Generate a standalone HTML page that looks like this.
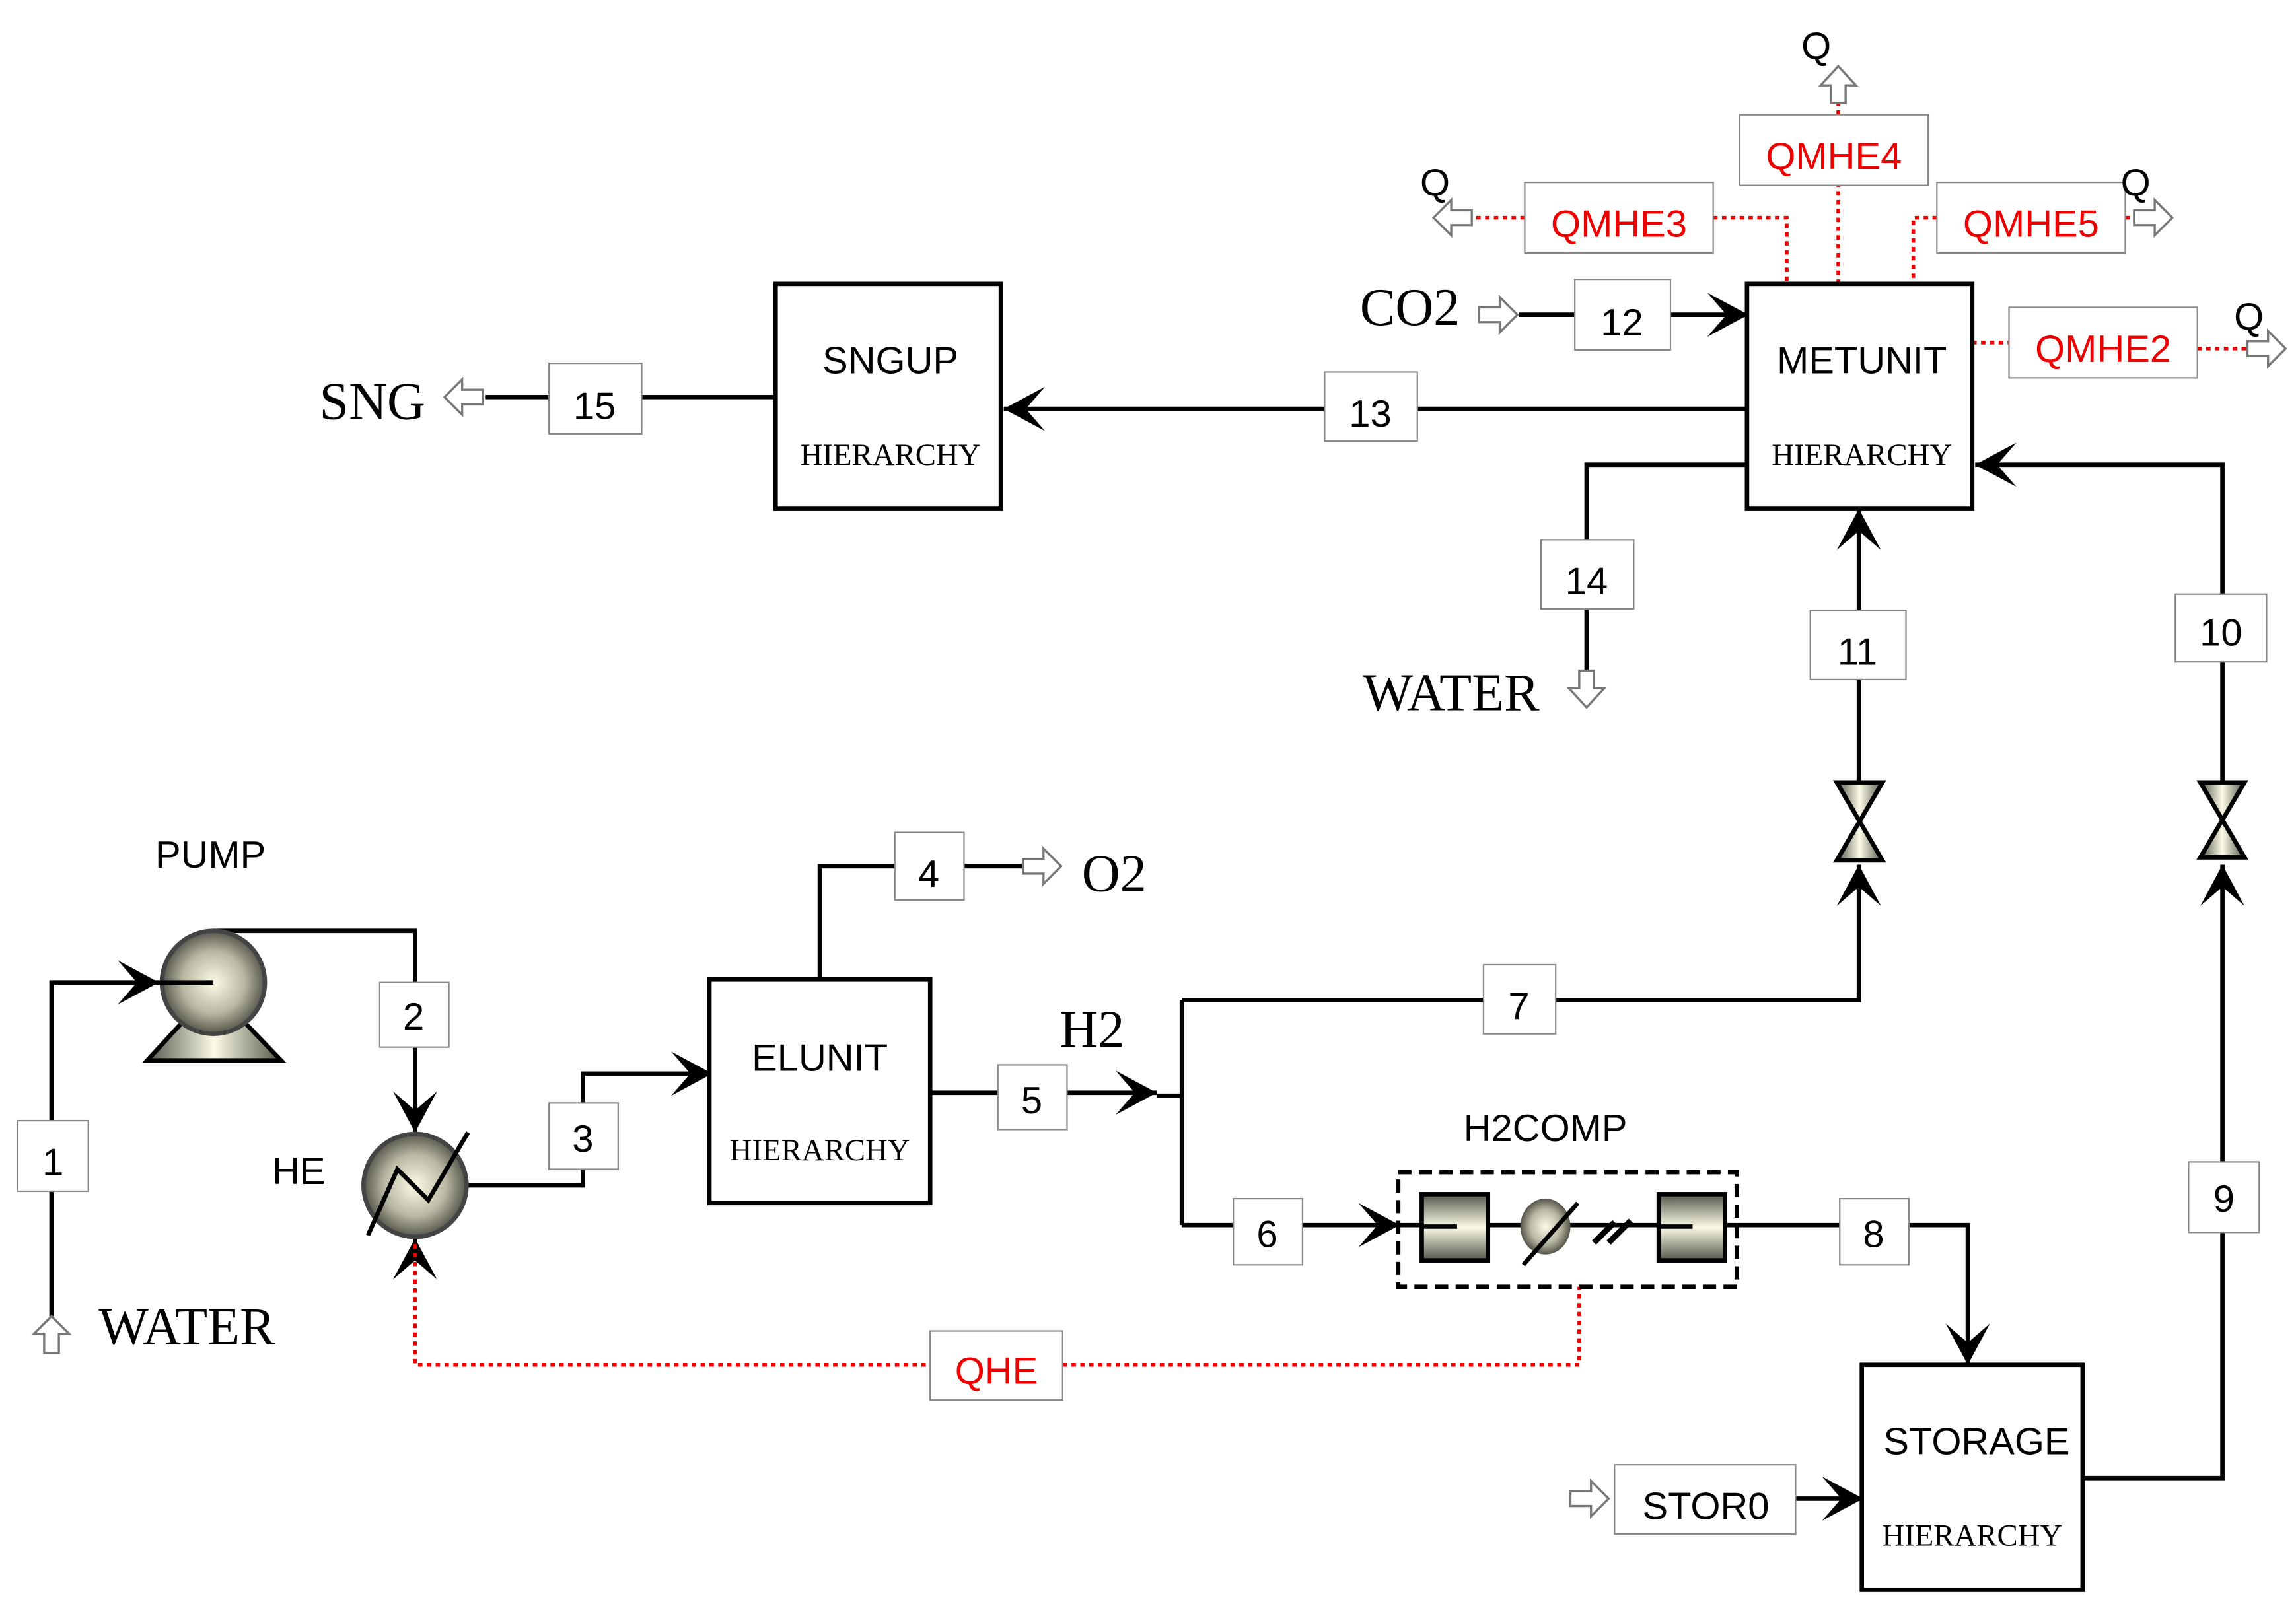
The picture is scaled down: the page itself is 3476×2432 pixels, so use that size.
<!DOCTYPE html>
<html><head><meta charset="utf-8"><style>html,body{margin:0;padding:0;background:#fff}svg{display:block}</style></head><body>
<svg width="3476" height="2432" viewBox="0 0 1560 1092" preserveAspectRatio="none" xmlns="http://www.w3.org/2000/svg">
<defs>
<marker id="a" viewBox="-30 -16 32 32" refX="0" refY="0" markerWidth="32" markerHeight="32" markerUnits="userSpaceOnUse" orient="auto"><path d="M0,0 L-28,-15 L-15,0 L-28,15 Z" fill="#000"/></marker>
<radialGradient id="sph" cx="50%" cy="50%" r="50%"><stop offset="0" stop-color="#fbfbe6"/><stop offset="0.6" stop-color="#b9b8a3"/><stop offset="1" stop-color="#55554b"/></radialGradient>
<linearGradient id="cyl" x1="0" y1="0" x2="0" y2="1"><stop offset="0" stop-color="#55554b"/><stop offset="0.5" stop-color="#fbfbe6"/><stop offset="1" stop-color="#55554b"/></linearGradient>
<linearGradient id="cylh" x1="0" y1="0" x2="1" y2="0"><stop offset="0" stop-color="#55554b"/><stop offset="0.5" stop-color="#fbfbe6"/><stop offset="1" stop-color="#55554b"/></linearGradient>
</defs>
<rect width="1560" height="1092" fill="#fff"/>
<g fill="none" stroke="#000" stroke-width="3">
<polyline points="35,895 35,668 108,668" marker-end="url(#a)"/>
<polyline points="145,633 282,633 282,770" marker-end="url(#a)"/>
<polyline points="317,806 396,806 396,730 484,730" marker-end="url(#a)"/>
<polyline points="557,666 557,589 695,589"/>
<polyline points="632,743 786,743" marker-end="url(#a)"/>
<polyline points="786,745 803,745"/>
<line x1="803" y1="680" x2="803" y2="833"/>
<polyline points="803,680 1263,680 1263,588" marker-end="url(#a)"/>
<polyline points="1263,532 1263,346" marker-end="url(#a)"/>
<polyline points="803,833 951,833" marker-end="url(#a)"/>
<polyline points="1180,833 1337,833 1337,928" marker-end="url(#a)"/>
<polyline points="1415,1005 1510,1005 1510,588" marker-end="url(#a)"/>
<polyline points="1510,532 1510,316 1342,316" marker-end="url(#a)"/>
<polyline points="1187,316 1078,316 1078,456"/>
<polyline points="1187,278 682,278" marker-end="url(#a)"/>
<polyline points="527,270 330,270"/>
<polyline points="1032,214 1188,214" marker-end="url(#a)"/>
<polyline points="1220,1019 1266,1019" marker-end="url(#a)"/>
<polyline points="282,850 282,842" marker-end="url(#a)"/>
</g>
<g fill="none" stroke="#e00" stroke-width="2.5" stroke-dasharray="3,3">
<polyline points="282,846 282,928 1073,928 1073,875"/>
<polyline points="1036,148 1002,148"/>
<polyline points="1164,148 1214,148 1214,193"/>
<polyline points="1249,193 1249,126"/>
<polyline points="1249,78 1249,70"/>
<polyline points="1316,148 1300,148 1300,193"/>
<polyline points="1444,148 1450,148"/>
<polyline points="1340,233 1365,233"/>
<polyline points="1493,237 1527,237"/>
</g>
<g fill="#fff" stroke="#777" stroke-width="1.5">
<polygon points="695,584 709,584 709,577 721,589 709,601 709,594 695,594"/>
<polygon points="1005,209 1019,209 1019,202 1031,214 1019,226 1019,219 1005,219"/>
<polygon points="1067,1014 1081,1014 1081,1007 1093,1019 1081,1031 1081,1024 1067,1024"/>
<polygon points="1450,143 1464,143 1464,136 1476,148 1464,160 1464,153 1450,153"/>
<polygon points="1527,232 1541,232 1541,225 1553,237 1541,249 1541,242 1527,242"/>
<polygon points="328,265 314,265 314,258 302,270 314,282 314,275 328,275"/>
<polygon points="1000,143 986,143 986,136 974,148 986,160 986,153 1000,153"/>
<polygon points="1073,456 1073,468 1066,468 1078,481 1090,468 1083,468 1083,456"/>
<polygon points="30,920 30,907 23,907 35,895 47,907 40,907 40,920"/>
<polygon points="1244,70 1244,58 1237,58 1249,45 1261,58 1254,58 1254,70"/>
</g>
<g fill="#fff" stroke="#000" stroke-width="3">
<rect x="527" y="193" width="153" height="153"/>
<rect x="1187" y="193" width="153" height="153"/>
<rect x="482" y="666" width="150" height="152"/>
<rect x="1265" y="928" width="150" height="153"/>
</g>
<rect x="950" y="797" width="230" height="78" fill="none" stroke="#000" stroke-width="3" stroke-dasharray="9,5"/>
<g stroke="#000" stroke-width="3">
<line x1="950" y1="833" x2="1180" y2="833"/>
<rect x="966" y="812" width="45" height="45" fill="url(#cyl)"/>
<rect x="1127" y="812" width="45" height="45" fill="url(#cyl)"/>
<line x1="966" y1="834" x2="990" y2="834"/>
<line x1="1127" y1="834" x2="1150" y2="834"/>
<ellipse cx="1050" cy="834" rx="17" ry="19" fill="url(#sph)" stroke="none"/>
<line x1="1072" y1="818" x2="1035" y2="860"/>
<line x1="1083" y1="845" x2="1097" y2="831" stroke-width="4"/>
<line x1="1093" y1="845" x2="1108" y2="830" stroke-width="4"/>
</g>
<g stroke="#000" stroke-width="3">
<polygon points="100,721 124,695 166,695 191,721" fill="url(#cylh)"/>
<circle cx="145" cy="668" r="35" fill="url(#sph)" stroke="#444"/>
<line x1="108" y1="668" x2="145" y2="668"/>
</g>
<g stroke="#000" stroke-width="3" fill="none">
<circle cx="282" cy="806" r="35" fill="url(#sph)" stroke="#444"/>
<polyline points="250,840 270,795 291,816 318,770"/>
</g>
<g stroke="#000" stroke-width="3" fill="url(#cylh)">
<polygon points="1248,532 1279,532 1248,585 1279,585"/>
<polygon points="1495,532 1525,532 1495,583 1525,583"/>
</g>
<g fill="#fff" stroke="#888" stroke-width="1">
<rect x="12" y="762" width="48" height="48"/>
<rect x="258" y="668" width="47" height="44"/>
<rect x="373" y="750" width="47" height="45"/>
<rect x="608" y="566" width="47" height="46"/>
<rect x="678" y="724" width="47" height="44"/>
<rect x="838" y="815" width="47" height="45"/>
<rect x="1008" y="656" width="49" height="47"/>
<rect x="1250" y="815" width="47" height="45"/>
<rect x="1487" y="790" width="48" height="48"/>
<rect x="1478" y="404" width="62" height="46"/>
<rect x="1230" y="415" width="65" height="47"/>
<rect x="1070" y="190" width="65" height="48"/>
<rect x="900" y="253" width="63" height="47"/>
<rect x="1047" y="367" width="63" height="47"/>
<rect x="373" y="247" width="63" height="48"/>
<rect x="632" y="905" width="90" height="47"/>
<rect x="1036" y="124" width="128" height="48"/>
<rect x="1182" y="78" width="128" height="48"/>
<rect x="1316" y="124" width="128" height="48"/>
<rect x="1365" y="209" width="128" height="48"/>
<rect x="1097" y="996" width="123" height="47"/>
</g>
<g font-family="Liberation Sans, sans-serif" font-size="26" text-anchor="middle" fill="#000">
<text x="36" y="799">1</text>
<text x="281" y="700">2</text>
<text x="396" y="783">3</text>
<text x="631" y="603">4</text>
<text x="701" y="757">5</text>
<text x="861" y="848">6</text>
<text x="1032" y="693">7</text>
<text x="1273" y="848">8</text>
<text x="1511" y="824">9</text>
<text x="1509" y="439">10</text>
<text x="1262" y="452">11</text>
<text x="1102" y="228">12</text>
<text x="931" y="290">13</text>
<text x="1078" y="404">14</text>
<text x="404" y="285">15</text>
<text x="1159" y="1033">STOR0</text>
<g fill="#e00">
<text x="677" y="941">QHE</text>
<text x="1100" y="161">QMHE3</text>
<text x="1246" y="115">QMHE4</text>
<text x="1380" y="161">QMHE5</text>
<text x="1429" y="246">QMHE2</text>
</g>
<text x="143" y="590">PUMP</text>
<text x="203" y="805">HE</text>
<text x="557" y="728">ELUNIT</text>
<text x="605" y="254">SNGUP</text>
<text x="1265" y="254">METUNIT</text>
<text x="1343" y="989">STORAGE</text>
<text x="1050" y="776">H2COMP</text>
<text x="1234" y="40">Q</text>
<text x="975" y="133">Q</text>
<text x="1451" y="133">Q</text>
<text x="1528" y="224">Q</text>
</g>
<g font-family="Liberation Serif, serif" fill="#000">
<g font-size="21" text-anchor="middle">
<text x="557" y="789">HIERARCHY</text>
<text x="605" y="316">HIERARCHY</text>
<text x="1265" y="316">HIERARCHY</text>
<text x="1340" y="1051">HIERARCHY</text>
</g>
<g font-size="36">
<text x="735" y="606">O2</text>
<text x="720" y="712">H2</text>
<text x="924" y="221">CO2</text>
<text x="217" y="285">SNG</text>
<text x="926" y="483">WATER</text>
<text x="67" y="914">WATER</text>
</g>
</g>
</svg>
</body></html>
